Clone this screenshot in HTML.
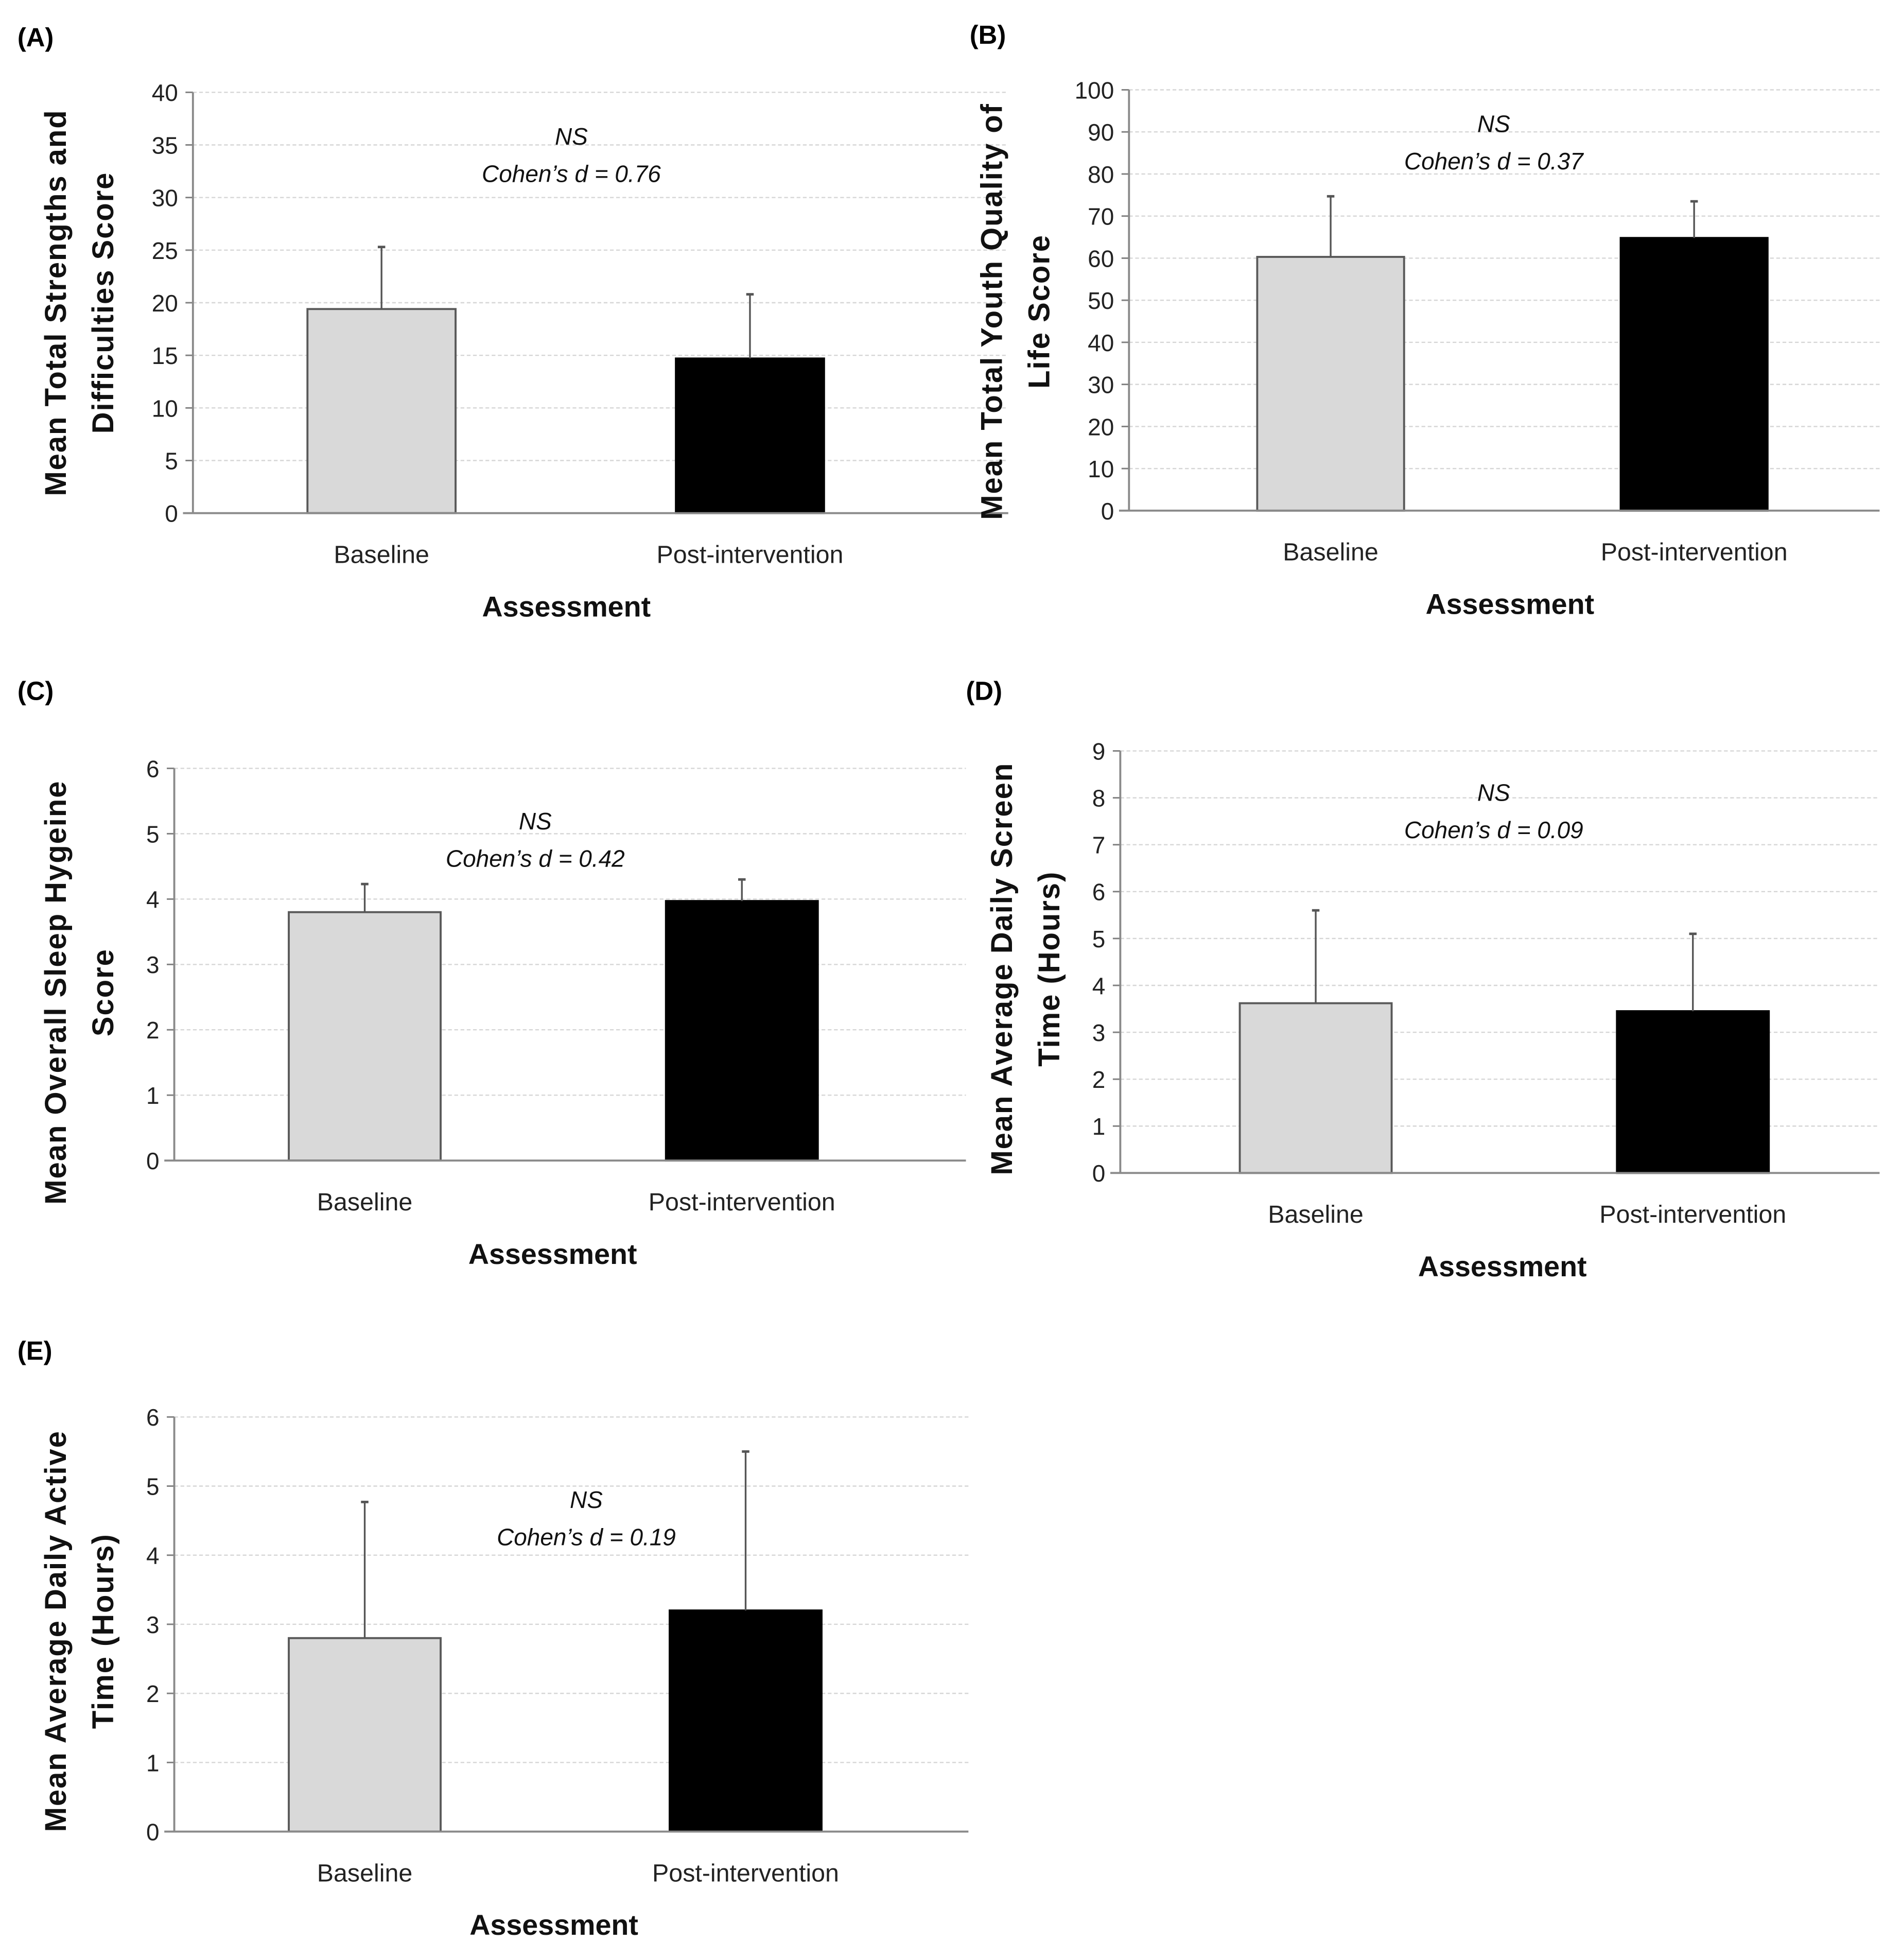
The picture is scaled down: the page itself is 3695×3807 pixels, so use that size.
<!DOCTYPE html>
<html><head><meta charset="utf-8">
<style>
html,body{margin:0;padding:0;background:#fff;}
svg{display:block;}
text{font-family:"Liberation Sans",sans-serif;}
</style></head>
<body>
<svg id="fig" width="3695" height="3807" viewBox="0 0 1528 1574" xmlns="http://www.w3.org/2000/svg"></svg>
<script>
// ---- data (top level) ----
const categories = ["Baseline", "Post-intervention"];
const meansA = [19.4, 14.7];
const errTopA = [25.3, 20.8];
const meansB = [60.3, 64.8];
const errTopB = [74.7, 73.5];
const meansC = [3.8, 3.97];
const errTopC = [4.23, 4.3];
const meansD = [3.62, 3.45];
const errTopD = [5.6, 5.1];
const meansE = [2.8, 3.2];
const errTopE = [4.77, 5.5];
const ticksA = [0,5,10,15,20,25,30,35,40];
const ticksB = [0,10,20,30,40,50,60,70,80,90,100];
const ticksC = [0,1,2,3,4,5,6];
const ticksD = [0,1,2,3,4,5,6,7,8,9];
const ticksE = [0,1,2,3,4,5,6];
const cohenA = "0.76", cohenB = "0.37", cohenC = "0.42", cohenD = "0.09", cohenE = "0.19";

const NS = "http://www.w3.org/2000/svg";
const svg = document.getElementById('fig');
function mk(tag, attrs, parent){
  const e = document.createElementNS(NS, tag);
  for (const k in attrs) e.setAttribute(k, attrs[k]);
  (parent||svg).appendChild(e);
  return e;
}

function panel(cfg){
  const g = mk('g', {});
  
  
  const tmax = cfg.ticks[cfg.ticks.length-1];
  const y = v => cfg.y0 - (v/tmax)*(cfg.y0 - cfg.yTop);
  const xc = i => cfg.barX[i] + cfg.barW/2;

  const lbl = mk('text', {x:cfg.lx, y:cfg.ly, 'font-size':21, 'font-weight':'bold', fill:'#000'}, g);
  lbl.textContent = '(' + cfg.id + ')';
  
  

  cfg.ticks.forEach(t => {
    if (t > 0) {
      const gl = mk('line', {x1:cfg.ax, x2:cfg.xEnd, y1:y(t), y2:y(t), stroke:'#d6d6d6', 'stroke-width':1, 'stroke-dasharray':'3,2'}, g);
      
      
    }
    mk('line', {x1:cfg.ax-6, x2:cfg.ax, y1:y(t), y2:y(t), stroke:'#7f7f7f', 'stroke-width':1.2}, g);
    const tl = mk('text', {x:cfg.ax-12, y:y(t)+7, 'font-size':19, 'text-anchor':'end', fill:'#222'}, g);
    tl.textContent = t;
    
    
  });

  categories.forEach((c, i) => {
    const m = cfg.means[i];
    const bar = mk('rect', {x:cfg.barX[i], y:y(m), width:cfg.barW, height:cfg.y0 - y(m), fill: i===0 ? '#d9d9d9' : '#000', stroke: i===0 ? '#595959' : '#000', 'stroke-width':1.6}, g);
    
    
    const eb = mk('line', {x1:xc(i), x2:xc(i), y1:y(m), y2:y(cfg.errTop[i]), stroke:'#555', 'stroke-width':1.4}, g);
    
    
    mk('line', {x1:xc(i)-3, x2:xc(i)+3, y1:y(cfg.errTop[i]), y2:y(cfg.errTop[i]), stroke:'#555', 'stroke-width':2}, g);
    const cl = mk('text', {x:xc(i), y:cfg.y0+40, 'font-size':20, 'text-anchor':'middle', fill:'#222'}, g);
    cl.textContent = c;
    
    
  });

  mk('line', {x1:cfg.ax, x2:cfg.ax, y1:cfg.yTop, y2:cfg.y0, stroke:'#8a8a8a', 'stroke-width':1.6}, g);
  mk('line', {x1:cfg.ax-8, x2:cfg.xEnd, y1:cfg.y0, y2:cfg.y0, stroke:'#8a8a8a', 'stroke-width':1.6}, g);

  const xt = mk('text', {x:cfg.xtX, y:cfg.y0+83, 'font-size':23, 'font-weight':'bold', 'text-anchor':'middle', fill:'#111'}, g);
  xt.textContent = 'Assessment';
  
  

  const yt = mk('text', {transform:'translate(' + cfg.ytX + ',' + cfg.ytY + ') rotate(-90)', 'font-size':24, 'font-weight':'bold', 'letter-spacing':0.8, 'text-anchor':'middle', fill:'#111'}, g);
  
  
  cfg.yTitle.forEach((line, k) => {
    const ts = mk('tspan', {x:0, y: k*38}, yt);
    ts.textContent = line;
  });

  const ns = mk('text', {x:cfg.annX, y:cfg.annY, 'font-size':19, 'font-style':'italic', 'text-anchor':'middle', fill:'#111'}, g);
  ns.textContent = 'NS';
  
  
  const cd = mk('text', {x:cfg.annX, y:cfg.annY+30, 'font-size':19, 'font-style':'italic', 'text-anchor':'middle', fill:'#111'}, g);
  cd.textContent = 'Cohen\u2019s d = ' + cfg.cohen;
  
  
}

panel({id:'A', lx:14, ly:37, ax:155, xEnd:810, y0:412, yTop:74, ticks:ticksA, means:meansA, errTop:errTopA,
  barX:[247,543], barW:119, xtX:455, ytX:53, ytY:243, yTitle:['Mean Total Strengths and','Difficulties Score'],
  annX:459, annY:116, cohen:cohenA});
panel({id:'B', lx:779, ly:35, ax:907, xEnd:1510, y0:410, yTop:72, ticks:ticksB, means:meansB, errTop:errTopB,
  barX:[1010,1302], barW:118, xtX:1213, ytX:805, ytY:250, yTitle:['Mean Total Youth Quality of','Life Score'],
  annX:1200, annY:106, cohen:cohenB});
panel({id:'C', lx:14, ly:562, ax:140, xEnd:776, y0:932, yTop:617, ticks:ticksC, means:meansC, errTop:errTopC,
  barX:[232,535], barW:122, xtX:444, ytX:53, ytY:797, yTitle:['Mean Overall Sleep Hygeine','Score'],
  annX:430, annY:666, cohen:cohenC});
panel({id:'D', lx:776, ly:562, ax:900, xEnd:1510, y0:942, yTop:603, ticks:ticksD, means:meansD, errTop:errTopD,
  barX:[996,1299], barW:122, xtX:1207, ytX:813, ytY:778, yTitle:['Mean Average Daily Screen','Time (Hours)'],
  annX:1200, annY:643, cohen:cohenD});
panel({id:'E', lx:14, ly:1092, ax:140, xEnd:778, y0:1471, yTop:1138, ticks:ticksE, means:meansE, errTop:errTopE,
  barX:[232,538], barW:122, xtX:445, ytX:53, ytY:1310, yTitle:['Mean Average Daily Active','Time (Hours)'],
  annX:471, annY:1211, cohen:cohenE});
</script>
</body></html>
